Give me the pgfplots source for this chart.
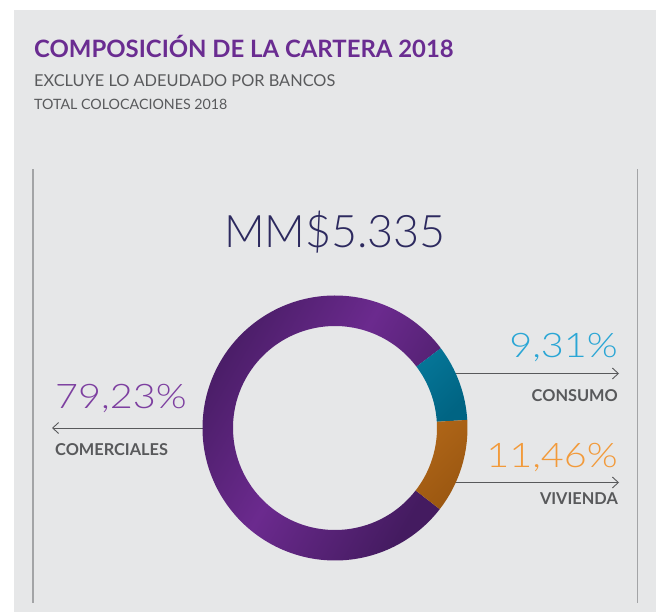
\documentclass[border=0pt]{standalone}
\usepackage{pgfplots}
\pgfplotsset{compat=1.18}
\usepackage{pgfplotstable}
\usetikzlibrary{arrows.meta,calc}
\usepackage{fontspec}
\setmainfont{Lato}
\IfFontExistsTF{Lato Light}{\newfontfamily\lightfont{Lato Light}\newfontfamily\lightwide{Lato Light}[FakeStretch=1.17]}{\newfontfamily\lightfont{Lato}\newfontfamily\lightwide{Lato}[FakeStretch=1.17]}

\definecolor{bg}{HTML}{E6E7E8}
\definecolor{titlepurple}{HTML}{6A2C91}
\definecolor{subgray}{HTML}{595A5C}
\definecolor{labgray}{HTML}{58595B}
\definecolor{vline}{HTML}{A3A4A6}
\definecolor{navy}{HTML}{2D2A5F}
\definecolor{pctpurple}{HTML}{7D3FA0}
\definecolor{pctcyan}{HTML}{2AA6D5}
\definecolor{pctorange}{HTML}{F29A3A}
\definecolor{pdark}{HTML}{441B60}
\definecolor{plight}{HTML}{6B2A8E}
\definecolor{tlight}{HTML}{0A84A8}
\definecolor{tdark}{HTML}{006483}
\definecolor{olight}{HTML}{BE701D}
\definecolor{odark}{HTML}{9C5811}

\pgfplotstableread{
label value
Vivienda 11.46
Consumo 9.31
Comerciales 79.23
}\donutdata

\begin{document}
\begin{tikzpicture}
\pgfplotstablegetelem{0}{value}\of\donutdata \let\vViv\pgfplotsretval
\pgfplotstablegetelem{1}{value}\of\donutdata \let\vCon\pgfplotsretval
\pgfplotstablegetelem{2}{value}\of\donutdata \let\vCom\pgfplotsretval
\pgfmathsetmacro\aOne{3.5}
\pgfmathsetmacro\aStart{\aOne-3.6*\vViv}
\pgfmathsetmacro\aTwo{\aOne+3.6*\vCon}
\pgfmathsetmacro\aEnd{\aTwo+3.6*\vCom}
\def\Ro{132.5bp}
\def\Ri{102bp}
\begin{axis}[width=656bp,height=612bp,scale only axis,
  xmin=0,xmax=656,ymin=0,ymax=612,y dir=reverse,hide axis,clip=false]
\fill[white] (axis cs:0,0) rectangle (axis cs:656,612);
\fill[bg] (axis cs:14,10) rectangle (axis cs:656,612);
\draw[vline,line width=1.5bp] (axis cs:33,169) -- (axis cs:33,603);
\draw[vline,line width=1.5bp] (axis cs:637.5,169) -- (axis cs:637.5,603);
% titles
\node[anchor=base west,inner sep=0,text=titlepurple,font=\fontsize{24}{24}\selectfont\bfseries] at (axis cs:34,57.3) {COMPOSICIÓN DE LA CARTERA 2018};
\node[anchor=base west,inner sep=0,text=subgray,font=\fontsize{16.4}{16.4}\selectfont] at (axis cs:34,86.7) {EXCLUYE LO ADEUDADO POR BANCOS};
\node[anchor=base west,inner sep=0,text=subgray,font=\fontsize{14.3}{14.3}\selectfont] at (axis cs:34,109.3) {TOTAL COLOCACIONES 2018};
% total
\node[anchor=base,inner sep=0,text=navy,font=\fontsize{45}{45}\selectfont\lightfont] at (axis cs:335,247.5) {MM\$5.335};
% arrows
\draw[labgray,line width=0.9bp,-{Straight Barb[length=6bp,width=11bp]}] (axis cs:215,428) -- (axis cs:52,428);
\draw[labgray,line width=0.9bp,-{Straight Barb[length=6bp,width=11bp]}] (axis cs:440,373.5) -- (axis cs:619,373.5);
\draw[labgray,line width=0.9bp,-{Straight Barb[length=6bp,width=11bp]}] (axis cs:440,482.5) -- (axis cs:619,482.5);
% donut
\shade[top color=pdark,bottom color=pdark,middle color=plight,shading angle=60]
  (axis cs:335,428) ++(\aTwo:\Ro) arc[start angle=\aTwo,end angle=\aEnd,radius=\Ro]
  -- ($(axis cs:335,428)+(\aEnd:\Ri)$) arc[start angle=\aEnd,end angle=\aTwo,radius=\Ri] -- cycle;
\shade[top color=tlight,bottom color=tdark,shading angle=45]
  (axis cs:335,428) ++(\aOne:\Ro) arc[start angle=\aOne,end angle=\aTwo,radius=\Ro]
  -- ($(axis cs:335,428)+(\aTwo:\Ri)$) arc[start angle=\aTwo,end angle=\aOne,radius=\Ri] -- cycle;
\shade[top color=olight,bottom color=odark,shading angle=45]
  (axis cs:335,428) ++(\aStart:\Ro) arc[start angle=\aStart,end angle=\aOne,radius=\Ro]
  -- ($(axis cs:335,428)+(\aOne:\Ri)$) arc[start angle=\aOne,end angle=\aStart,radius=\Ri] -- cycle;
% percentages
\node[anchor=base west,inner sep=0,text=pctpurple,font=\fontsize{34}{34}\selectfont\lightwide] at (axis cs:55,408.5) {79,23\%};
\node[anchor=base east,inner sep=0,text=pctcyan,font=\fontsize{34}{34}\selectfont\lightwide] at (axis cs:618,357.5) {9,31\%};
\node[anchor=base east,inner sep=0,text=pctorange,font=\fontsize{34}{34}\selectfont\lightwide] at (axis cs:618,467) {11,46\%};
% labels
\node[anchor=base west,inner sep=0,text=labgray,font=\fontsize{16.4}{16.4}\selectfont\bfseries] at (axis cs:55,455) {COMERCIALES};
\node[anchor=base east,inner sep=0,text=labgray,font=\fontsize{16.4}{16.4}\selectfont\bfseries] at (axis cs:618,401) {CONSUMO};
\node[anchor=base east,inner sep=0,text=labgray,font=\fontsize{16.4}{16.4}\selectfont\bfseries] at (axis cs:618,504.5) {VIVIENDA};
\end{axis}
\end{tikzpicture}
\end{document}
